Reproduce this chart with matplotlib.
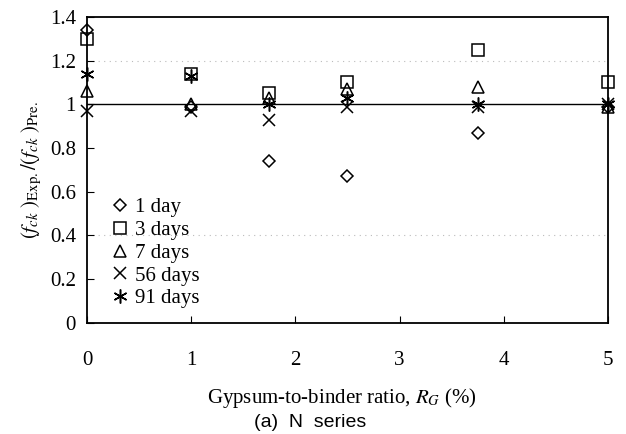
import numpy as np
import matplotlib.pyplot as plt

plt.rcParams['font.family'] = ['Liberation Serif', 'DejaVu Serif']
plt.rcParams['mathtext.fontset'] = 'stix'

# gypsum-to-binder ratio (%)
rg = [0, 1, 1.75, 2.5, 3.75, 5]

# (fck)Exp / (fck)Pre for each age
day1 = [1.34, 0.99, 0.74, 0.67, 0.87, 0.99]
day3 = [1.30, 1.14, 1.05, 1.10, 1.25, 1.10]
day7 = [1.06, 1.00, 1.03, 1.07, 1.08, 0.99]
day56 = [0.97, 0.97, 0.93, 0.99, 0.99, 1.00]
day91 = [1.14, 1.13, 1.00, 1.03, 1.00, 1.00]

series = [
    (day1, 'D', 6, '1 day'),
    (day3, 's', 8, '3 days'),
    (day7, '^', 8, '7 days'),
    (day56, 'x', 9, '56 days'),
    (day91, (6, 2, 0), 10, '91 days'),
]

fig = plt.figure(figsize=(6.26, 4.34), dpi=100)
ax = fig.add_axes([0.139, 0.256, 0.832, 0.705])

# faint dotted grid remnants
for yg in [1.2, 0.4]:
    ax.axhline(yg, color='#bbbbbb', lw=0.8, ls=(0, (1, 4)), zorder=0)

ax.axhline(1.0, color='black', lw=1.0, zorder=1)

for vals, m, ms, lab in series:
    ax.plot(rg, vals, ls='none', marker=m, ms=ms, mfc='none' if m not in ['x'] else 'black',
            mec='black', mew=1.1, label=lab, clip_on=False, zorder=3)

ax.set_xlim(0, 5)
ax.set_ylim(0, 1.4)
ax.set_xticks(np.arange(0, 6, 1))
ax.set_yticks(np.arange(0, 1.41, 0.2))
ax.set_yticklabels(['0', '0.2', '0.4', '0.6', '0.8', '1', '1.2', '1.4'])
ax.tick_params(direction='in', labelsize=15, length=5, width=0.8)
ax.tick_params(axis='x', pad=20)
ax.tick_params(axis='y', pad=8)
for s in ax.spines.values():
    s.set_linewidth(1.3)

ax.set_ylabel(r'$(f_{ck}\ )_{\mathrm{Exp.}}/(f_{ck}\ )_{\mathrm{Pre.}}$', fontsize=15, labelpad=4)
ax.set_xlabel(r'Gypsum-to-binder ratio, $R_G$ (%)', fontsize=15, labelpad=14)
ax.xaxis.set_label_coords(0.49, -0.205)

ax.legend(loc='lower left', bbox_to_anchor=(0.02, 0.0), frameon=False, fontsize=15,
          handlelength=0.8, handletextpad=0.3, labelspacing=0.15, borderaxespad=0.3)

fig.text(0.495, 0.026, '(a)  N  series', fontsize=14, family='Liberation Sans',
         ha='center', va='center')

fig.savefig('out.png', dpi=100)
